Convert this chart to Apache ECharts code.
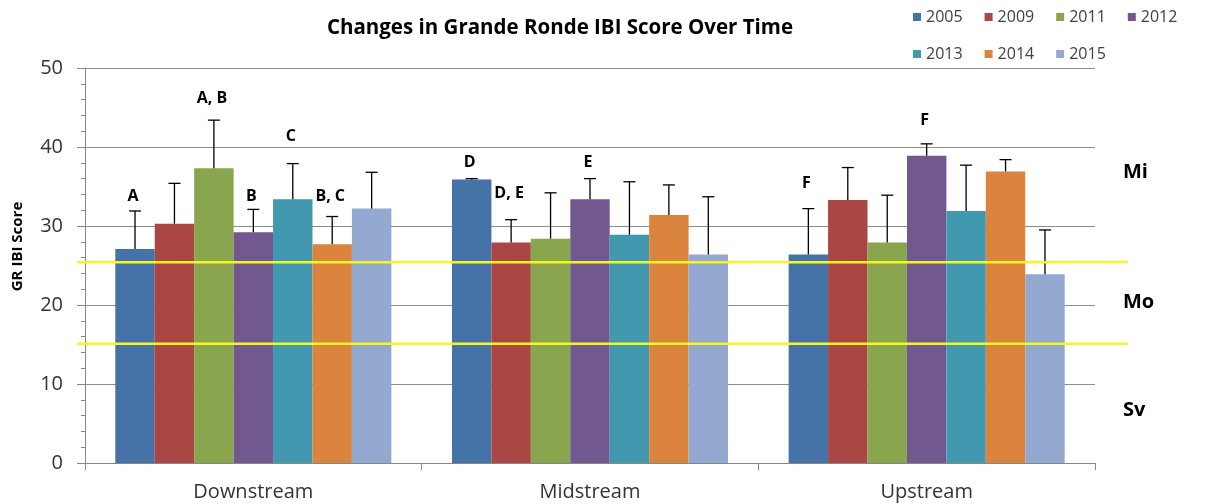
<!DOCTYPE html>
<html>
<head>
<meta charset="utf-8">
<title>Changes in Grande Ronde IBI Score Over Time</title>
<script src="https://cdn.jsdelivr.net/npm/echarts@6/dist/echarts.min.js"></script>
<style>
html, body { margin: 0; padding: 0; background: #fff; }
#main { width: 1215px; height: 504px; }
</style>
</head>
<body>
<div id="main"></div>
<script>
// data
const reaches = ['Downstream', 'Midstream', 'Upstream'];
const years = ['2005', '2009', '2011', '2012', '2013', '2014', '2015'];
const yearColors = ['#4572A7', '#AA4643', '#89A54E', '#71588F', '#4198AF', '#DB843D', '#93A9CF'];

const score2005 = [27.1, 35.9, 26.4];
const score2009 = [30.3, 27.9, 33.3];
const score2011 = [37.3, 28.4, 27.9];
const score2012 = [29.2, 33.4, 38.9];
const score2013 = [33.4, 28.9, 31.9];
const score2014 = [27.7, 31.4, 36.9];
const score2015 = [32.2, 26.4, 23.9];
const scores = [score2005, score2009, score2011, score2012, score2013, score2014, score2015];

// upper error bar length
const err2005 = [4.8, 0.1, 5.8];
const err2009 = [5.1, 2.9, 4.1];
const err2011 = [6.1, 5.8, 6.0];
const err2012 = [2.9, 2.6, 1.5];
const err2013 = [4.5, 6.7, 5.8];
const err2014 = [3.5, 3.8, 1.5];
const err2015 = [4.6, 7.3, 5.6];
const errs = [err2005, err2009, err2011, err2012, err2013, err2014, err2015];

// [reach index, year index, letter, y position]
const sigLetters = [
  [0, 0, 'A', 33.7],
  [0, 2, 'A, B', 46.2],
  [0, 3, 'B', 33.7],
  [0, 4, 'C', 41.3],
  [0, 5, 'B, C', 33.7],
  [1, 0, 'D', 38.1],
  [1, 1, 'D, E', 34.1],
  [1, 3, 'E', 38.1],
  [2, 0, 'F', 35.4],
  [2, 3, 'F', 43.4],
];

const yTicks = [0, 10, 20, 30, 40, 50];
const thresholdLines = [25.4, 15.1];
const zoneLabels = ['Mi', 'Mo', 'Sv'];
const zoneLabelY = [36.8, 20.4, 6.7];

const FONT = '"Open Sans", "Noto Sans", sans-serif';
const CAT_GAP = 0.18;

// horizontal offset of a year's bar from its category centre
function barOffset(api, yearIdx) {
  const band = api.size([1, 0])[0];
  const w = band * (1 - CAT_GAP) / years.length;
  return (yearIdx - (years.length - 1) / 2) * w;
}

const errData = [];
years.forEach((y, k) => {
  reaches.forEach((r, c) => {
    errData.push([c, k, scores[k][c], errs[k][c]]);
  });
});

const barSeries = years.map((y, k) => ({
  name: y,
  type: 'bar',
  data: scores[k],
  barGap: '0%',
  barCategoryGap: (CAT_GAP * 100) + '%',
  itemStyle: { color: yearColors[k] },
  z: 2,
}));

const legendText = { fontFamily: FONT, fontSize: 16, color: '#404040' };

const chart = echarts.init(document.getElementById('main'));
chart.setOption({
  animation: false,
  title: {
    text: 'Changes in Grande Ronde IBI Score Over Time',
    left: 555,
    textAlign: 'center',
    top: 13,
    textStyle: { fontFamily: FONT, fontSize: 20.5, fontWeight: 'bold', color: '#000' },
  },
  legend: [
    {
      data: years.slice(0, 4),
      left: 908,
      top: 4,
      icon: 'rect',
      itemWidth: 8,
      itemHeight: 8,
      itemGap: 22,
      textStyle: legendText,
    },
    {
      data: years.slice(4),
      left: 908,
      top: 41,
      icon: 'rect',
      itemWidth: 8,
      itemHeight: 8,
      itemGap: 22,
      textStyle: legendText,
    },
  ],
  grid: { left: 85, right: 120, top: 68, bottom: 41, containLabel: false, outerBoundsMode: 'none' },
  xAxis: {
    type: 'category',
    data: reaches,
    axisLine: { lineStyle: { color: '#868686' } },
    axisTick: { show: true, length: 7, lineStyle: { color: '#868686' } },
    axisLabel: { margin: 19, fontFamily: FONT, fontSize: 20, color: '#333' },
  },
  yAxis: {
    type: 'value',
    min: yTicks[0],
    max: yTicks[yTicks.length - 1],
    interval: 10,
    name: 'GR IBI Score',
    nameLocation: 'middle',
    nameGap: 60,
    nameTextStyle: {
      fontFamily: FONT, fontSize: 15, fontWeight: 'bold', color: '#000',
      padding: [0, 0, 0, 38],
    },
    axisLine: { show: true, lineStyle: { color: '#868686' } },
    axisTick: { show: true, length: 8, lineStyle: { color: '#868686' } },
    minorTick: { show: true, splitNumber: 5, length: 4, lineStyle: { color: '#868686' } },
    axisLabel: { margin: 22, fontFamily: FONT, fontSize: 20, color: '#333' },
    splitLine: { lineStyle: { color: '#8c8c8c', width: 1 } },
  },
  series: [
    ...barSeries,
    {
      type: 'custom',
      name: 'error',
      z: 4,
      data: errData,
      encode: { x: 0, y: 2 },
      renderItem(params, api) {
        const c = api.value(0);
        const k = api.value(1);
        const mean = api.value(2);
        const base = api.coord([c, mean]);
        const top = api.coord([c, mean + api.value(3)]);
        const x = base[0] + barOffset(api, k);
        const st = { stroke: '#000', lineWidth: 1.3 };
        return {
          type: 'group',
          children: [
            { type: 'line', shape: { x1: x, y1: base[1], x2: x, y2: top[1] }, style: st },
            { type: 'line', shape: { x1: x - 6, y1: top[1], x2: x + 6, y2: top[1] }, style: st },
          ],
        };
      },
    },
    {
      type: 'custom',
      name: 'letters',
      z: 5,
      data: sigLetters.map(d => [d[0], d[3]]),
      renderItem(params, api) {
        const d = sigLetters[params.dataIndex];
        const p = api.coord([d[0], d[3]]);
        return {
          type: 'text',
          x: p[0] + barOffset(api, d[1]) - 2,
          y: p[1],
          style: {
            text: d[2],
            fill: '#000',
            font: 'bold 16px ' + FONT,
            align: 'center',
            verticalAlign: 'middle',
          },
        };
      },
    },
    {
      type: 'custom',
      name: 'thresholds',
      z: 6,
      clip: false,
      data: thresholdLines.map(v => [0, v]),
      renderItem(params, api) {
        const cs = params.coordSys;
        const y = api.coord([0, api.value(1)])[1];
        return {
          type: 'line',
          shape: { x1: cs.x - 8, y1: y, x2: cs.x + cs.width + 33, y2: y },
          style: { stroke: '#f7f71e', lineWidth: 2.5 },
        };
      },
    },
    {
      type: 'custom',
      name: 'zones',
      z: 6,
      clip: false,
      data: zoneLabelY.map(v => [0, v]),
      renderItem(params, api) {
        const cs = params.coordSys;
        const y = api.coord([0, api.value(1)])[1];
        return {
          type: 'text',
          x: cs.x + cs.width + 28,
          y: y,
          style: {
            text: zoneLabels[params.dataIndex],
            fill: '#000',
            font: 'bold 20px ' + FONT,
            align: 'left',
            verticalAlign: 'middle',
          },
        };
      },
    },
  ],
});
</script>
</body>
</html>
